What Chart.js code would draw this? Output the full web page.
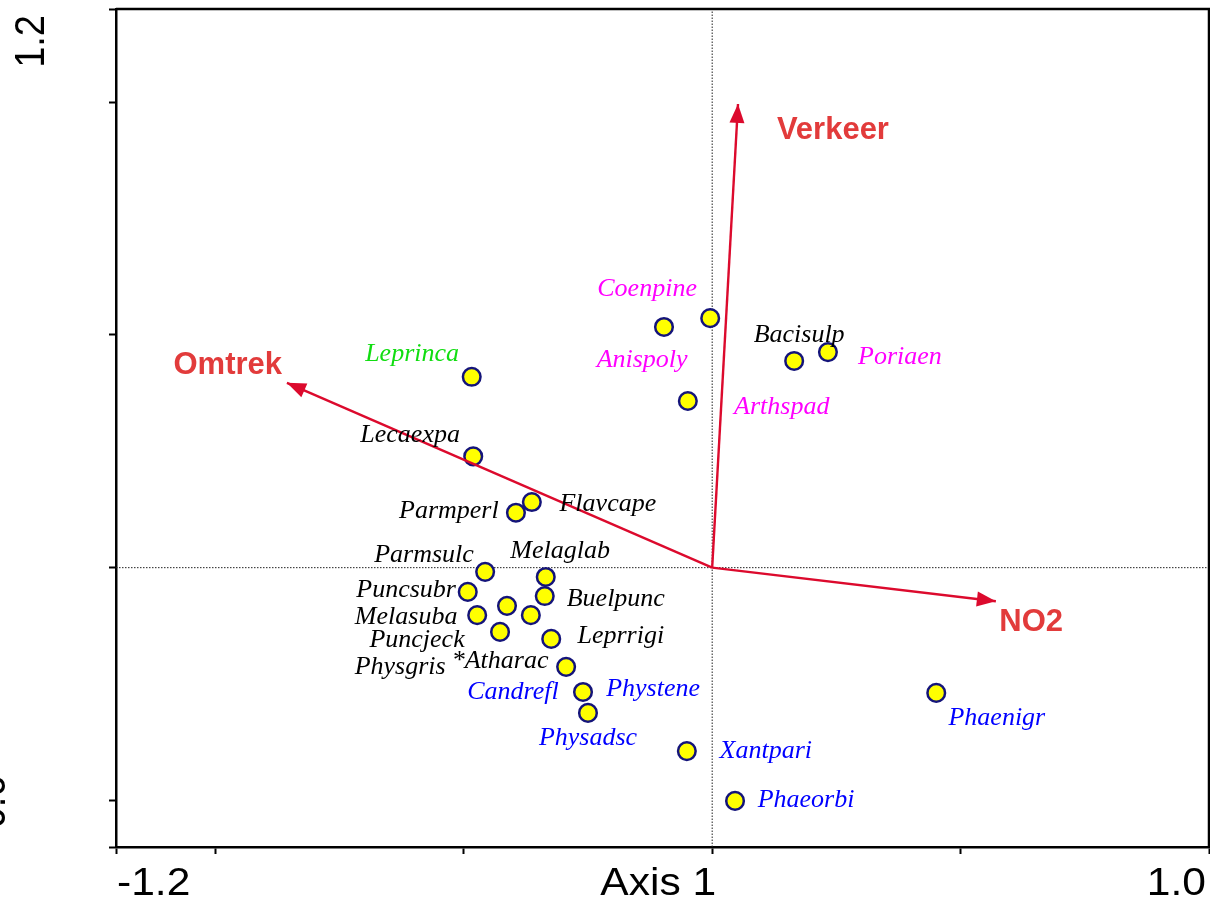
<!DOCTYPE html>
<html>
<head>
<meta charset="utf-8">
<script src="https://cdn.jsdelivr.net/npm/chart.js@4/dist/chart.umd.min.js"></script>
<style>
  html, body { margin: 0; padding: 0; background: #fff; }
  #wrap { width: 1210px; height: 899px; position: relative; }
</style>
</head>
<body>
<div id="wrap"><canvas id="biplot"></canvas></div>
<script>
// species scores (Axis 1, Axis 2)
const speciesNames = ['Coenpine', 'Anispoly', 'Bacisulp', 'Poriaen', 'Arthspad', 'Leprinca', 'Lecaexpa',
  'Flavcape', 'Parmperl', 'Parmsulc', 'Melaglab', 'Buelpunc', 'Puncsubr', 'Physgris', '*Atharac',
  'Melasuba', 'Puncjeck', 'Leprrigi', 'Phystene', 'Candrefl', 'Physadsc', 'Xantpari', 'Phaeorbi', 'Phaenigr'];
const speciesX = [-0.004, -0.097, 0.165, 0.233, -0.049, -0.484, -0.481,
  -0.363, -0.395, -0.457, -0.335, -0.337, -0.492, -0.413, -0.365,
  -0.473, -0.427, -0.324, -0.294, -0.260, -0.250, -0.051, 0.046, 0.451];
const speciesY = [0.536, 0.517, 0.444, 0.463, 0.358, 0.410, 0.239,
  0.141, 0.118, -0.009, -0.020, -0.061, -0.052, -0.082, -0.102,
  -0.102, -0.138, -0.153, -0.213, -0.267, -0.312, -0.394, -0.501, -0.269];
// where each name is written (label centre, same units)
const labelX = [-0.131, -0.141, 0.175, 0.378, 0.140, -0.604, -0.608,
  -0.210, -0.530, -0.580, -0.306, -0.194, -0.616, -0.628, -0.427,
  -0.616, -0.594, -0.184, -0.119, -0.401, -0.250, 0.108, 0.189, 0.573];
const labelY = [0.598, 0.446, 0.500, 0.452, 0.345, 0.459, 0.285,
  0.137, 0.122, 0.027, 0.036, -0.067, -0.048, -0.213, -0.200,
  -0.106, -0.156, -0.147, -0.260, -0.267, -0.366, -0.394, -0.499, -0.323];
const speciesGroup = ['pink', 'pink', 'black', 'pink', 'pink', 'green', 'black',
  'black', 'black', 'black', 'black', 'black', 'black', 'black', 'black',
  'black', 'black', 'black', 'blue', 'blue', 'blue', 'blue', 'blue', 'blue'];

// environmental arrows
const arrowNames = ['Verkeer', 'Omtrek', 'NO2'];
const arrowX = [0.052, -0.856, 0.571];
const arrowY = [0.996, 0.397, -0.072];
const arrowLabelX = [0.243, -0.975, 0.642];
const arrowLabelY = [0.940, 0.435, -0.117];

// axes
const xTicks = [-1.2, -1.0, -0.5, 0, 0.5, 1.0];
const yTicks = [-0.6, -0.5, 0, 0.5, 1.0, 1.2];
const xTickText = ['-1.2', 'Axis 1', '1.0'];
const xTickAt = [-1.2, 0, 1.0];
const yTickText = ['1.2', '-0.6'];
const yTickAt = [1.2, -0.6];

const groupColors = { black: '#000000', pink: '#ff00ff', green: '#11dd11', blue: '#0000ff' };
const ARROW = '#dc0a2d';
const ARROW_TEXT = '#e23b3b';

const datasets = [];
// dotted zero lines
datasets.push({
  type: 'line', data: [{ x: 0, y: -0.6 }, { x: 0, y: 1.2 }],
  borderColor: '#222', borderWidth: 1, borderDash: [1.5, 1.5], pointRadius: 0, order: 5
});
datasets.push({
  type: 'line', data: [{ x: -1.2, y: 0 }, { x: 1.0, y: 0 }],
  borderColor: '#222', borderWidth: 1, borderDash: [1.5, 1.5], pointRadius: 0, order: 5
});
// species points
datasets.push({
  type: 'scatter',
  data: speciesX.map((v, i) => ({ x: v, y: speciesY[i] })),
  pointRadius: 8.8, pointBackgroundColor: '#ffff00', pointBorderColor: '#14147a',
  pointBorderWidth: 2.5, order: 3
});
// arrow shafts
arrowNames.forEach((n, i) => {
  datasets.push({
    type: 'line', data: [{ x: 0, y: 0 }, { x: arrowX[i], y: arrowY[i] }],
    borderColor: ARROW, borderWidth: 2.4, pointRadius: 0, order: 1
  });
});

const overlay = {
  id: 'overlay',
  afterDatasetsDraw(chart) {
    const { ctx, chartArea: ca, scales: { x, y } } = chart;
    ctx.save();
    // top + right frame
    ctx.strokeStyle = '#000';
    ctx.lineWidth = 2.5;
    ctx.beginPath();
    ctx.moveTo(ca.left, ca.top);
    ctx.lineTo(ca.right, ca.top);
    ctx.lineTo(ca.right, ca.bottom);
    ctx.stroke();

    // arrow heads
    const ox = x.getPixelForValue(0), oy = y.getPixelForValue(0);
    ctx.fillStyle = ARROW;
    arrowNames.forEach((n, i) => {
      const tx = x.getPixelForValue(arrowX[i]), ty = y.getPixelForValue(arrowY[i]);
      const a = Math.atan2(ty - oy, tx - ox);
      const len = 19, hw = 7.5;
      const bx = tx - len * Math.cos(a), by = ty - len * Math.sin(a);
      ctx.beginPath();
      ctx.moveTo(tx, ty);
      ctx.lineTo(bx + hw * Math.sin(a), by - hw * Math.cos(a));
      ctx.lineTo(bx - hw * Math.sin(a), by + hw * Math.cos(a));
      ctx.closePath();
      ctx.fill();
    });

    // arrow names
    ctx.font = 'bold 31px "Liberation Sans", Arial, sans-serif';
    ctx.textAlign = 'center';
    ctx.textBaseline = 'middle';
    ctx.fillStyle = ARROW_TEXT;
    arrowNames.forEach((n, i) => {
      ctx.fillText(n, x.getPixelForValue(arrowLabelX[i]), y.getPixelForValue(arrowLabelY[i]));
    });

    // species names
    ctx.font = 'italic 26px "Liberation Serif", "Times New Roman", serif';
    speciesNames.forEach((n, i) => {
      ctx.fillStyle = groupColors[speciesGroup[i]];
      ctx.fillText(n, x.getPixelForValue(labelX[i]), y.getPixelForValue(labelY[i]));
    });
    ctx.restore();
  },
  afterDraw(chart) {
    const { ctx, chartArea: ca, scales: { x, y } } = chart;
    ctx.save();
    ctx.fillStyle = '#000';
    ctx.font = '38px "Liberation Sans", Arial, sans-serif';
    ctx.textBaseline = 'alphabetic';
    // x labels, stretched a little like the original
    xTickText.forEach((t, i) => {
      const px = x.getPixelForValue(xTickAt[i]);
      ctx.save();
      ctx.translate(i === 0 ? px + 1 : (i === 1 ? px + 4 : px - 3), ca.bottom + 48);
      ctx.scale(1.12, 1);
      ctx.textAlign = i === 0 ? 'left' : 'right';
      ctx.fillText(t, 0, 0);
      ctx.restore();
    });
    // y labels, rotated
    yTickText.forEach((t, i) => {
      const py = y.getPixelForValue(yTickAt[i]);
      ctx.save();
      if (i === 0) {
        ctx.translate(44, py + 6);
        ctx.scale(1.12, 1);
        ctx.rotate(-Math.PI / 2);
        ctx.textAlign = 'right';
      } else {
        ctx.translate(5, py - 6);
        ctx.scale(1.12, 1);
        ctx.rotate(-Math.PI / 2);
        ctx.textAlign = 'left';
      }
      ctx.fillText(t, 0, 0);
      ctx.restore();
    });
    ctx.restore();
  }
};

new Chart(document.getElementById('biplot'), {
  type: 'scatter',
  data: { datasets },
  options: {
    responsive: true,
    maintainAspectRatio: false,
    animation: false,
    layout: { autoPadding: false, padding: { left: 0, top: 9, right: 1, bottom: 0 } },
    plugins: { legend: { display: false }, tooltip: { enabled: false } },
    scales: {
      x: {
        type: 'linear', min: -1.2, max: 1.0,
        afterBuildTicks: (axis) => { axis.ticks = xTicks.map(v => ({ value: v })); },
        afterFit: (axis) => { axis.height = 52; },
        ticks: { display: false },
        grid: { drawOnChartArea: false, drawTicks: true, tickLength: 7, tickWidth: 2, tickColor: '#000' },
        border: { display: true, color: '#000', width: 2.5 }
      },
      y: {
        type: 'linear', min: -0.6, max: 1.2,
        afterBuildTicks: (axis) => { axis.ticks = yTicks.map(v => ({ value: v })); },
        afterFit: (axis) => { axis.width = 116; },
        ticks: { display: false },
        grid: { drawOnChartArea: false, drawTicks: true, tickLength: 7, tickWidth: 2, tickColor: '#000' },
        border: { display: true, color: '#000', width: 2.5 }
      }
    }
  },
  plugins: [overlay]
});
</script>
</body>
</html>
